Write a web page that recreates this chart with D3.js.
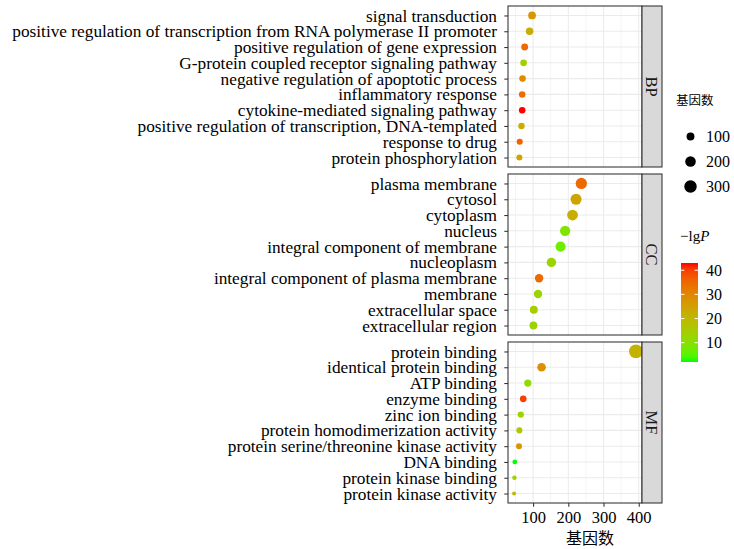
<!DOCTYPE html>
<html><head><meta charset="utf-8">
<script src="https://cdn.jsdelivr.net/npm/d3@7"></script>
<style>body{margin:0;background:#fff}svg{display:block}</style>
</head><body><svg id="c" width="734" height="549"></svg>
<script>
// ---- data ----
const panelNames = ["BP", "CC", "MF"];
const bpTerms = ["signal transduction","positive regulation of transcription from RNA polymerase II promoter","positive regulation of gene expression","G-protein coupled receptor signaling pathway","negative regulation of apoptotic process","inflammatory response","cytokine-mediated signaling pathway","positive regulation of transcription, DNA-templated","response to drug","protein phosphorylation"];
const bpCounts = [97, 90, 76, 73, 70, 69, 69, 67, 62, 61];
const bpLgP = [27, 22, 35, 14, 29, 34, 43, 22, 36, 24];
const ccTerms = ["plasma membrane","cytosol","cytoplasm","nucleus","integral component of membrane","nucleoplasm","integral component of plasma membrane","membrane","extracellular space","extracellular region"];
const ccCounts = [237, 222, 212, 191, 178, 152, 117, 114, 102, 101];
const ccLgP = [35, 24, 22, 9, 7, 13, 35, 13, 15, 13];
const mfTerms = ["protein binding","identical protein binding","ATP binding","enzyme binding","zinc ion binding","protein homodimerization activity","protein serine/threonine kinase activity","DNA binding","protein kinase binding","protein kinase activity"];
const mfCounts = [392, 124, 85, 72, 65, 61, 60, 48, 47, 46];
const mfLgP = [21, 28, 11, 40, 13, 16, 27, 2, 14, 19];
const xTicks = [100, 200, 300, 400];
const xMinor = [50, 150, 250, 350];
const sizeBreaks = [100, 200, 300];
const colorBreaks = [10, 20, 30, 40];
const xTitle = "基因数";
const sizeTitle = "基因数";

// ---- layout ----
const svg = d3.select("#c");
const L = 508, R = 642, stripW = 20;
const panelTops = [6, 174, 342], panelH = 161;
const serif = "'Liberation Serif','Times New Roman',serif";
const cjk = "'Noto Sans CJK SC',sans-serif";

const panels = [
  {name: panelNames[0], terms: bpTerms, counts: bpCounts, lgp: bpLgP},
  {name: panelNames[1], terms: ccTerms, counts: ccCounts, lgp: ccLgP},
  {name: panelNames[2], terms: mfTerms, counts: mfCounts, lgp: mfLgP}
];
const allCounts = [...bpCounts, ...ccCounts, ...mfCounts];
const allLgP = [...bpLgP, ...ccLgP, ...mfLgP];
const cExt = d3.extent(allCounts);
const pad = (cExt[1] - cExt[0]) * 0.05;
const x = d3.scaleLinear().domain([cExt[0] - pad, cExt[1] + pad]).range([L, R]);
const lgExt = d3.extent(allLgP);
const color = d3.scaleLinear().domain(lgExt).range(["#00ff00", "#ff0000"]).interpolate(d3.interpolateLab);
const sizeNorm = d3.scaleLinear().domain(cExt).range([0, 1]);
const rLin = d3.scaleLinear().domain([0, 1]).range([2, 6.9]);
const rad = v => rLin(Math.sqrt(Math.max(0, sizeNorm(v))));

panels.forEach((p, i) => {
  const top = panelTops[i], bot = top + panelH;
  const y = d3.scalePoint().domain(p.terms).range([top, bot]).padding(0.6);
  const g = svg.append("g");
  g.append("rect").attr("x", L).attr("y", top).attr("width", R - L).attr("height", panelH).attr("fill", "#fff");
  g.selectAll(".mn").data(xMinor).join("line")
    .attr("x1", d => x(d)).attr("x2", d => x(d)).attr("y1", top).attr("y2", bot)
    .attr("stroke", "#ebebeb").attr("stroke-width", 0.55);
  g.selectAll(".mj").data(xTicks).join("line")
    .attr("x1", d => x(d)).attr("x2", d => x(d)).attr("y1", top).attr("y2", bot)
    .attr("stroke", "#ebebeb").attr("stroke-width", 1.07);
  g.selectAll(".hj").data(p.terms).join("line")
    .attr("x1", L).attr("x2", R).attr("y1", d => y(d)).attr("y2", d => y(d))
    .attr("stroke", "#ebebeb").attr("stroke-width", 1.07);
  const pts = p.terms.map((t, k) => ({t, c: p.counts[k], v: p.lgp[k]}));
  g.selectAll("circle").data(pts).join("circle")
    .attr("cx", d => x(d.c)).attr("cy", d => y(d.t)).attr("r", d => rad(d.c))
    .attr("fill", d => color(d.v));
  g.append("rect").attr("x", L).attr("y", top).attr("width", R - L).attr("height", panelH)
    .attr("fill", "none").attr("stroke", "#333").attr("stroke-width", 1.07);
  g.append("rect").attr("x", R).attr("y", top).attr("width", stripW).attr("height", panelH)
    .attr("fill", "#d9d9d9").attr("stroke", "#333").attr("stroke-width", 1.07);
  g.append("text").attr("transform", `translate(${R + stripW / 2},${top + panelH / 2}) rotate(90)`)
    .attr("text-anchor", "middle").attr("dy", "0.35em")
    .attr("font-family", serif).attr("font-size", 16.5).attr("fill", "#1a1a1a").text(p.name);
  const ya = d3.axisLeft(y).tickSize(3.7).tickPadding(7.3);
  const ag = g.append("g").attr("transform", `translate(${L},0)`).call(ya);
  ag.select(".domain").remove();
  ag.selectAll(".tick line").attr("stroke", "#333").attr("stroke-width", 1.07);
  ag.selectAll(".tick text").attr("font-family", serif).attr("font-size", 17.3).attr("fill", "#000");
  if (i === 2) {
    const xa = d3.axisBottom(x).tickValues(xTicks).tickSize(3.7).tickPadding(5);
    const xg = g.append("g").attr("transform", `translate(0,${bot})`).call(xa);
    xg.select(".domain").remove();
    xg.selectAll(".tick line").attr("stroke", "#333").attr("stroke-width", 1.07);
    xg.selectAll(".tick text").attr("font-family", serif).attr("font-size", 16.5).attr("fill", "#000");
  }
});

svg.append("text").attr("x", 590).attr("y", 544).attr("text-anchor", "middle")
  .attr("font-family", cjk).attr("font-size", 16).attr("fill", "#000").text(xTitle);

svg.append("text").attr("x", 676).attr("y", 105).attr("font-family", cjk).attr("font-size", 12.5).attr("fill", "#000").text(sizeTitle);
const sy = d3.scalePoint().domain(sizeBreaks).range([136.5, 186.5]);
sizeBreaks.forEach(b => {
  svg.append("circle").attr("cx", 690.5).attr("cy", sy(b)).attr("r", rad(b)).attr("fill", "#000");
  svg.append("text").attr("x", 706).attr("y", sy(b)).attr("dy", "0.35em")
    .attr("font-family", serif).attr("font-size", 16).attr("fill", "#000").text(b);
});

const ct = svg.append("text").attr("x", 680).attr("y", 241).attr("font-family", serif).attr("font-size", 15).attr("fill", "#000");
ct.append("tspan").text("\u2212lg");
ct.append("tspan").attr("font-style", "italic").text("P");
const barTop = 263, barBot = 362, barX = 681, barW = 17;
const cy = d3.scaleLinear().domain(lgExt).range([barBot, barTop]);
const defs = svg.append("defs");
const grad = defs.append("linearGradient").attr("id", "cg").attr("x1", 0).attr("y1", 1).attr("x2", 0).attr("y2", 0);
d3.range(0, 1.0001, 0.05).forEach(t => {
  grad.append("stop").attr("offset", t).attr("stop-color", color(lgExt[0] + t * (lgExt[1] - lgExt[0])));
});
svg.append("rect").attr("x", barX).attr("y", barTop).attr("width", barW).attr("height", barBot - barTop).attr("fill", "url(#cg)");
colorBreaks.forEach(b => {
  const yy = cy(b);
  svg.append("line").attr("x1", barX).attr("x2", barX + 3.4).attr("y1", yy).attr("y2", yy).attr("stroke", "#fff").attr("stroke-width", 1);
  svg.append("line").attr("x1", barX + barW - 3.4).attr("x2", barX + barW).attr("y1", yy).attr("y2", yy).attr("stroke", "#fff").attr("stroke-width", 1);
  svg.append("text").attr("x", 706).attr("y", yy).attr("dy", "0.35em").attr("font-family", serif).attr("font-size", 16).attr("fill", "#000").text(b);
});
</script></body></html>
